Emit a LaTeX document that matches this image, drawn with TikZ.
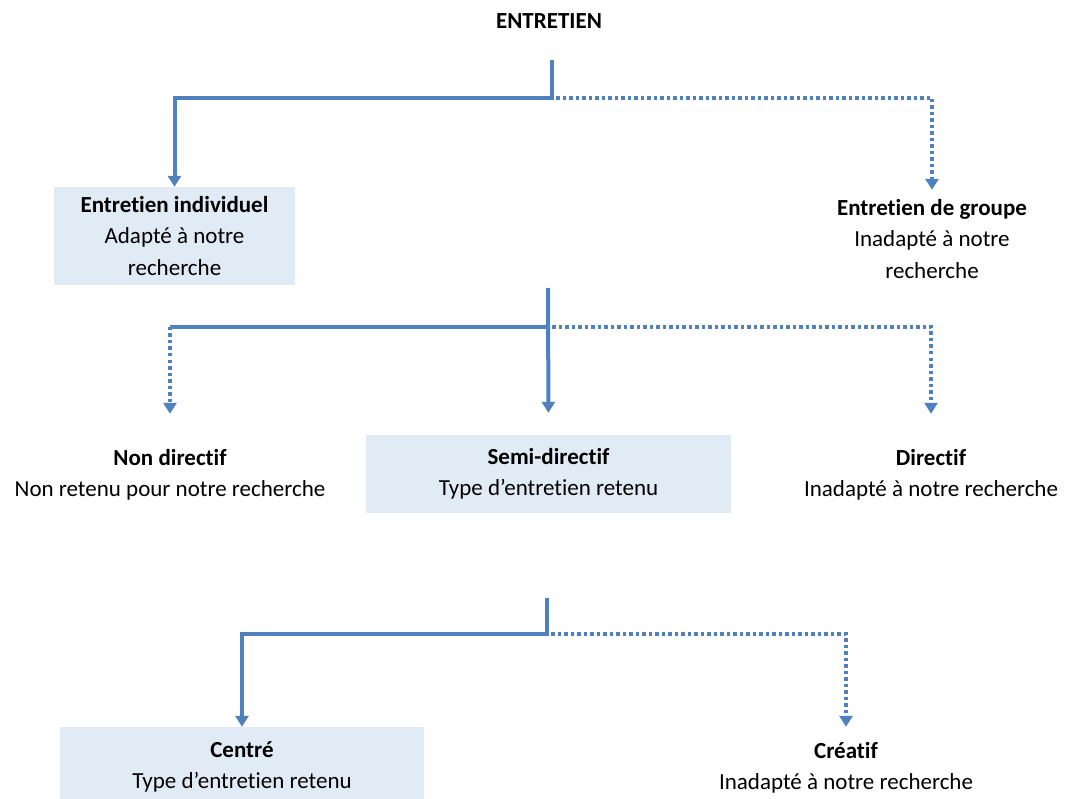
\documentclass[tikz,border=0pt]{standalone}
\usepackage{fontspec}
\setmainfont{Carlito}[Ligatures=NoCommon]
\usepackage{xcolor}
\usepackage{tikz}
\usetikzlibrary{arrows.meta}
\usetikzlibrary{positioning}

\definecolor{traitbleu}{HTML}{4F81BD}
\definecolor{fondbleu}{HTML}{E1EBF6}

\begin{document}
\begin{tikzpicture} [
            x=1pt, y=-1pt,
            % ----- Node definitions ----- %
            choixnode/.style = {
                rectangle,
                align=center,
                inner sep=0pt,
                font=\fontsize{23}{31.5}\selectfont
            },
            retenunode/.style = {
                choixnode,
                fill = fondbleu
            },
            % ----- Connector definitions ----- %
            trait/.style = {
                draw = traitbleu,
                line width = 4pt,
                -{Triangle[width=13pt,length=11pt]}
            },
            traitplein/.style = {
                draw = traitbleu,
                line width = 4pt
            },
            pointille/.style = {
                trait,
                line width = 3.5pt,
                dash pattern = on 3.5pt off 3pt
            },
    ]
    \useasboundingbox (0,0) rectangle (1065,799);

            % ----- Node constructions ----- %
        \node [choixnode, font=\fontsize{23}{31.5}\selectfont\bfseries] (entretien) at (549,21) {ENTRETIEN};

        \node [retenunode, minimum width=241pt, minimum height=98pt] (individuel) at (174.5,236)
            {\textbf{Entretien individuel}\\Adapté à notre\\recherche};
        \node [choixnode, minimum height=98pt] (groupe) at (932,239)
            {\textbf{Entretien de groupe}\\Inadapté à notre\\recherche};

        \node [choixnode, minimum height=78pt] (nondirectif) at (170,475)
            {\textbf{Non directif}\\Non retenu pour notre recherche};
        \node [retenunode, minimum width=365pt, minimum height=78pt] (semidirectif) at (548.5,474)
            {\textbf{Semi-directif}\\Type d’entretien retenu};
        \node [choixnode, minimum height=78pt] (directif) at (931,475)
            {\textbf{Directif}\\Inadapté à notre recherche};

        \node [retenunode, minimum width=364pt, minimum height=80pt] (centre) at (242,767)
            {\textbf{Centré}\\Type d’entretien retenu};
        \node [choixnode, minimum height=82pt] (creatif) at (846,768)
            {\textbf{Créatif}\\Inadapté à notre recherche};

            % ----- Junctions ----- %
        \coordinate (depart1) at (552,60);
        \coordinate (noeud1) at (552,98);
        \coordinate (depart2) at (548,288);
        \coordinate (noeud2) at (548,327);
        \coordinate (coin2) at (nondirectif.north |- noeud2);
        \coordinate (depart3) at (547,598);
        \coordinate (noeud3) at (547,634);

            % ----- Connectors ----- %
        \draw [trait] (depart1) -- (noeud1) -| (individuel.north);
        \draw [pointille] ([xshift=4pt]noeud1) -| (groupe.north);

        \draw [trait, shorten >=22pt] (depart2) -- (semidirectif.north);
        \draw [traitplein] (noeud2) -- (coin2);
        \draw [pointille, shorten >=22pt] (coin2) -- (nondirectif.north);
        \draw [pointille, shorten >=22pt] ([xshift=4pt]noeud2) -| (directif.north);

        \draw [trait] (depart3) -- (noeud3) -| (centre.north);
        \draw [pointille] ([xshift=4pt]noeud3) -| (creatif.north);

\end{tikzpicture}
\end{document}
